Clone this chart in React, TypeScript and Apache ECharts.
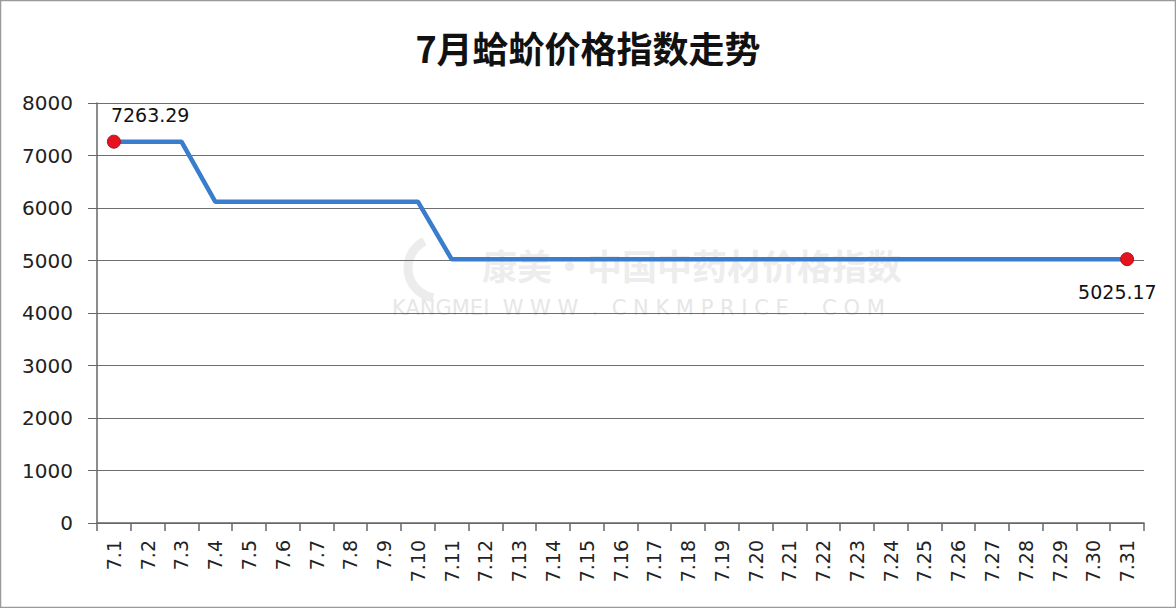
import React, { useEffect, useRef } from "react";
import * as echarts from "echarts";

const categories = [
  "7.1","7.2","7.3","7.4","7.5","7.6","7.7","7.8","7.9","7.10",
  "7.11","7.12","7.13","7.14","7.15","7.16","7.17","7.18","7.19","7.20",
  "7.21","7.22","7.23","7.24","7.25","7.26","7.27","7.28","7.29","7.30","7.31",
];
const values = [
  7263.29, 7263.29, 7263.29, 6120, 6120, 6120, 6120, 6120, 6120, 6120,
  5025.17, 5025.17, 5025.17, 5025.17, 5025.17, 5025.17, 5025.17, 5025.17, 5025.17, 5025.17,
  5025.17, 5025.17, 5025.17, 5025.17, 5025.17, 5025.17, 5025.17, 5025.17, 5025.17, 5025.17, 5025.17,
];
const yTicks = { min: 0, max: 8000, interval: 1000 };
const title = "7月蛤蚧价格指数走势";

export default function App() {
  const ref = useRef<HTMLDivElement>(null);
  useEffect(() => {
    if (!ref.current) return;
    const chart = echarts.init(ref.current, null, { renderer: "svg" });
    const last = values.length - 1;
    const data = values.map((v, i) => {
      if (i === 0 || i === last) {
        return {
          value: v,
          symbol: "circle",
          symbolSize: 13,
          itemStyle: { color: "#e5131f", borderColor: "#b0101a", borderWidth: 1 },
          label: {
            show: true,
            formatter: (p: any) => p.value.toFixed(2),
            position: i === 0 ? [4, -29] : [-42, 30],
            fontSize: 19,
            color: "#111",
            fontFamily: "DejaVu Sans",
          },
        };
      }
      return { value: v, symbol: "none" };
    });
    chart.setOption({
      animation: false,
      backgroundColor: "#ffffff",
      title: {
        text: title,
        left: "center",
        top: 24,
        textStyle: {
          fontSize: 36,
          fontWeight: "bold",
          color: "#111",
          fontFamily: "Noto Sans CJK SC",
        },
      },
      graphic: [
        {
          type: "rect",
          shape: { x: 0.5, y: 0.5, width: 1175, height: 607 },
          style: { fill: "none", stroke: "#9a9a9a", lineWidth: 1.5 },
          silent: true,
        },
        {
          type: "arc",
          shape: { cx: 438, cy: 268, r: 30, startAngle: Math.PI * 0.55, endAngle: Math.PI * 1.35 },
          style: { stroke: "#ececec", lineWidth: 9, fill: "none" },
          silent: true,
          z: -1,
        },
        {
          type: "text",
          x: 482,
          y: 264,
          style: {
            text: "康美·中国中药材价格指数",
            font: "bold 35px 'Noto Sans CJK SC'",
            fill: "#ededed",
            verticalAlign: "middle",
          },
          silent: true,
          z: -1,
        },
        {
          type: "text",
          x: 392,
          y: 308,
          style: {
            text: "KANGMEI  W W W  .  C N K M P R I C E  .  C O M",
            font: "21px 'DejaVu Sans'",
            fill: "#e6e6e6",
            verticalAlign: "middle",
          },
          silent: true,
          z: -1,
        },
      ],
      grid: { left: 97, right: 32, top: 103, bottom: 85 },
      xAxis: {
        type: "category",
        data: categories,
        boundaryGap: true,
        axisLine: { show: true, lineStyle: { color: "#666", width: 1.5 } },
        axisTick: { show: true, length: 8, lineStyle: { color: "#666", width: 1.5 }, alignWithLabel: false },
        axisLabel: {
          rotate: 90,
          interval: 0,
          fontSize: 19,
          color: "#222",
          margin: 17,
          fontFamily: "DejaVu Sans",
        },
      },
      yAxis: {
        type: "value",
        min: yTicks.min,
        max: yTicks.max,
        interval: yTicks.interval,
        axisLine: { show: true, lineStyle: { color: "#666", width: 1.5 } },
        axisTick: { show: true, length: 9, lineStyle: { color: "#666" } },
        axisLabel: {
          fontSize: 20,
          color: "#222",
          margin: 24,
          fontFamily: "DejaVu Sans",
          formatter: (v: number) => String(v),
        },
        splitLine: { show: true, lineStyle: { color: "#6f6f6f", width: 1 } },
      },
      series: [
        {
          type: "line",
          data,
          symbol: "none",
          showSymbol: true,
          lineStyle: { color: "#3a7dcc", width: 4.5 },
          itemStyle: { color: "#3a7dcc" },
        },
      ],
    });
    return () => chart.dispose();
  }, []);
  return (
    <div
      ref={ref}
      style={{ position: "absolute", left: 0, top: 0, width: 1176, height: 608 }}
    />
  );
}
